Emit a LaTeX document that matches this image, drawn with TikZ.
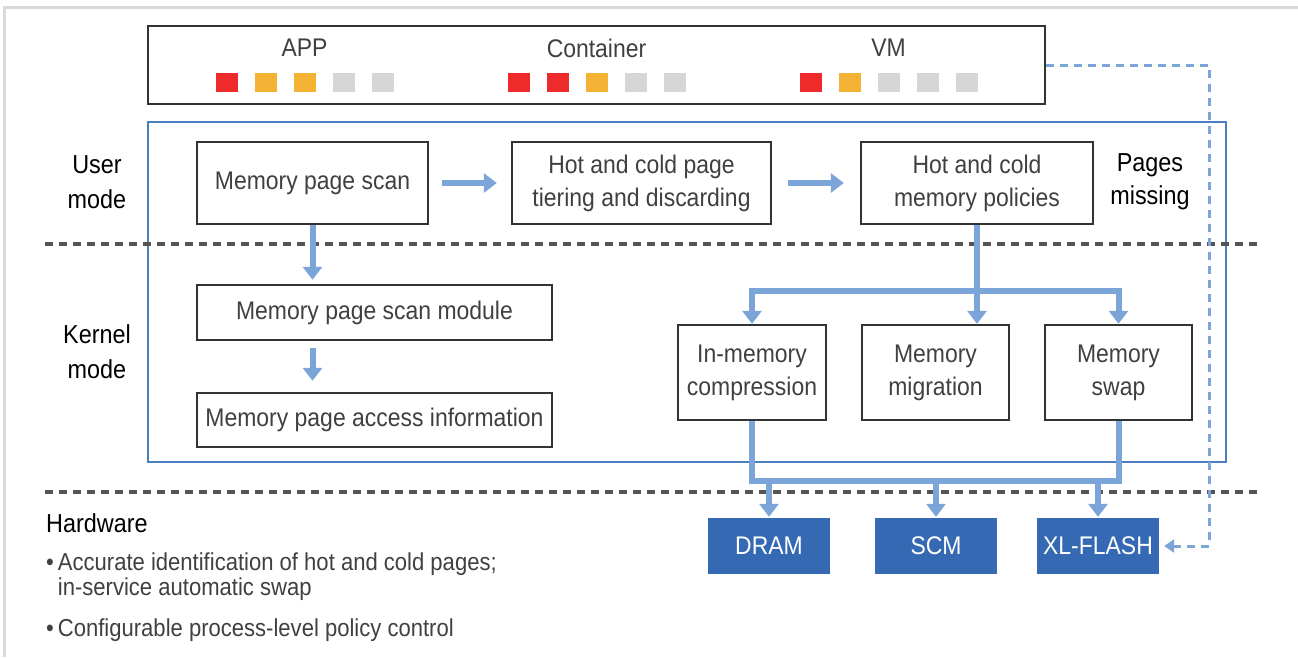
\documentclass[tikz,border=0pt]{standalone}
\usepackage{fontspec}
\setmainfont{Liberation Sans}[FakeStretch=0.9]
\usetikzlibrary{arrows.meta,calc}

\definecolor{frameg}{HTML}{DADADA}
\definecolor{boxline}{HTML}{333333}
\definecolor{txt}{HTML}{404040}
\definecolor{regionblue}{HTML}{4A7DC2}
\definecolor{flowblue}{HTML}{7BA4D9}
\definecolor{hwblue}{HTML}{3569B3}
\definecolor{hotred}{HTML}{EE2A2A}
\definecolor{warm}{HTML}{F5B335}
\definecolor{coldgray}{HTML}{D6D6D6}
\definecolor{sepline}{HTML}{555555}

\begin{document}
\begin{tikzpicture}[x=1pt,y=-1pt,
  bodyfont/.style={font=\fontsize{25.5}{33}\selectfont},
  procbox/.style={draw=boxline, line width=2.4pt, fill=white, text=txt,
    align=center, inner sep=0pt, bodyfont},
  hwbox/.style={fill=hwblue, text=white, minimum width=122pt,
    minimum height=56pt, inner sep=0pt, bodyfont},
  lbl/.style={text=txt, inner sep=0pt, bodyfont},
  sidelbl/.style={text=black, align=center, inner sep=0pt,
    font=\fontsize{26}{35}\selectfont},
  bullet/.style={text=txt, align=left, inner sep=0pt, anchor=west,
    font=\fontsize{24.5}{25}\selectfont},
  pagesq/.style={minimum width=22pt, minimum height=19pt, inner sep=0pt},
  flow/.style={draw=flowblue, line width=6pt},
  flowarrow/.style={flow, -{Triangle[width=19pt,length=13pt]}},
  dashconn/.style={draw=flowblue, line width=3pt, dash pattern=on 8pt off 6pt,
    -{Triangle[width=13pt,length=10pt]}, shorten >=5pt},
  sep/.style={draw=sepline, line width=3.5pt, dash pattern=on 8pt off 6pt}
]
\useasboundingbox (0,0) rectangle (1298,657);

% page frame
\draw[frameg, line width=3pt] (4,657) -- (4,7) -- (1298,7);

% user / kernel region
\draw[regionblue, line width=2.4pt] (148,122) rectangle (1226,462);

% layer separators
\draw[sep] (45,244) -- (1262,244);
\draw[sep] (45,492) -- (1262,492);

% workloads
\node[procbox, minimum width=897pt, minimum height=78pt] (top) at (596.5,65) {};
\node[lbl] (app) at (304.5,48) {APP};
\node[lbl] (ctr) at (596.5,48) {Container};
\node[lbl] (vm)  at (888.5,48) {VM};
\foreach \g/\cx/\cols in {app/304.5/{hotred,warm,warm,coldgray,coldgray},
                          ctr/596.5/{hotred,hotred,warm,coldgray,coldgray},
                          vm/888.5/{hotred,warm,coldgray,coldgray,coldgray}}{
  \foreach \c [count=\i] in \cols
    \node[pagesq, fill=\c] (\g-sq\i) at ({\cx+(\i-3)*39},82) {};
}

% side labels
\node[sidelbl] (usermode) at (97,182) {User\\mode};
\node[sidelbl] (kernelmode) at (97,352) {Kernel\\mode};
\node[sidelbl, anchor=west] (hw) at (46,523) {Hardware};

% user mode
\node[procbox, minimum width=231pt, minimum height=82pt] (scan) at (312.5,183) {Memory page scan};
\node[procbox, minimum width=259pt, minimum height=82pt] (tier) at (641.5,183) {Hot and cold page\\tiering and discarding};
\node[procbox, minimum width=232pt, minimum height=82pt] (pol) at (977,183) {Hot and cold\\memory policies};
\node[sidelbl, font=\fontsize{26}{33}\selectfont] (missing) at (1150,182) {Pages\\missing};

% kernel mode
\node[procbox, minimum width=355pt, minimum height=55pt] (module) at (374.5,312.5) {Memory page scan module};
\node[procbox, minimum width=355pt, minimum height=54pt] (access) at (374.5,420) {Memory page access information};
\node[procbox, minimum width=148pt, minimum height=95pt] (comp) at (752,372.5) {In-memory\\compression};
\node[procbox, minimum width=147pt, minimum height=95pt] (migr) at (935.5,372.5) {Memory\\migration};
\node[procbox, minimum width=147pt, minimum height=95pt] (swap) at (1118.5,372.5) {Memory\\swap};

% hardware
\node[hwbox] (dram) at (769,546) {DRAM};
\node[hwbox] (scm) at (936,546) {SCM};
\node[hwbox] (xlf) at (1098,546) {XL-FLASH};

\node[bullet] (b1) at (46,577) {\textbullet\hspace{4pt}Accurate identification of hot and cold pages;\\\phantom{\textbullet}\hspace{4pt}in-service automatic swap};
\node[bullet] (b2) at (46,630) {\textbullet\hspace{4pt}Configurable process-level policy control};

% flows
\draw[flowarrow, shorten <=13pt, shorten >=14pt] (scan.east) -- (tier.west);
\draw[flowarrow, shorten <=16pt, shorten >=16pt] (tier.east) -- (pol.west);
\draw[flowarrow, shorten >=4pt] (scan.south) -- (scan.south |- module.north);
\draw[flowarrow, shorten <=7pt, shorten >=11pt] (scan.south |- module.south) -- (scan.south |- access.north);

\coordinate (upbus) at (0,291);
\draw[flow] (pol.south) -- (pol.south |- upbus);
\draw[flowarrow] (pol.south |- upbus) -| (comp.north);
\draw[flowarrow] (pol.south |- upbus) -| (swap.north);
\draw[flowarrow] (pol.south |- upbus) -- (pol.south |- migr.north);

\coordinate (lowbus) at (0,481);
\draw[flow, line join=miter] (comp.south) -- (comp.south |- lowbus) -- (swap.south |- lowbus) -- (swap.south);
\draw[flowarrow, shorten >=1pt] (dram.north |- lowbus) -- (dram.north);
\draw[flowarrow, shorten >=1pt] (scm.north |- lowbus) -- (scm.north);
\draw[flowarrow, shorten >=1pt] (xlf.north |- lowbus) -- (xlf.north);

% pages missing path
\coordinate (dashx) at (1209,0);
\draw[dashconn] (top.east) -- (top.east -| dashx) -- (dashx |- xlf.east) -- (xlf.east);
\end{tikzpicture}
\end{document}
